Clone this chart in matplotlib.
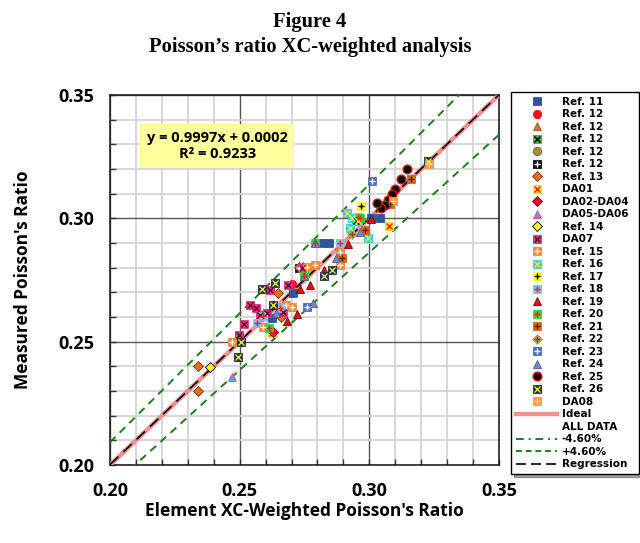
import numpy as np
import matplotlib.pyplot as plt
from matplotlib.lines import Line2D

# ---- data (x = element XC-weighted, y = measured) ----
ref11_x = [0.3006, 0.3041, 0.2820, 0.2843, 0.2707, 0.2624]
ref11_y = [0.3003, 0.3003, 0.2901, 0.2901, 0.2699, 0.2595]
ref12a_x = [0.2700]; ref12a_y = [0.2735]
ref12b_x = [0.2750]; ref12b_y = [0.2780]
ref12c_x = [0.2950]; ref12c_y = [0.2990]
ref12d_x = [0.2967]; ref12d_y = [0.3050]
ref12e_x = [0.2730]; ref12e_y = [0.2800]
ref13_x = [0.2649, 0.2658, 0.2339, 0.2339, 0.2730, 0.2745]
ref13_y = [0.2699, 0.2599, 0.2400, 0.2302, 0.2801, 0.2804]
da01_x = [0.3076, 0.2624]; da01_y = [0.2970, 0.2536]
da02_x = [0.2627]; da02_y = [0.2540]
da05_x = [0.2469]; da05_y = [0.2355]
ref14_x = [0.2386]; ref14_y = [0.2396]
da07_x = [0.2688, 0.2617, 0.2540, 0.2563, 0.2578, 0.2604, 0.2668, 0.2518, 0.2499, 0.2740]
da07_y = [0.2730, 0.2709, 0.2649, 0.2635, 0.2608, 0.2618, 0.2622, 0.2571, 0.2527, 0.2800]
ref15_x = [0.2887, 0.2887, 0.2761, 0.2790, 0.2679, 0.2701, 0.2591, 0.2469]
ref15_y = [0.2865, 0.2811, 0.2801, 0.2811, 0.2649, 0.2639, 0.2558, 0.2500]
ref16_x = [0.2913, 0.2925, 0.2996, 0.2935, 0.2955]
ref16_y = [0.3021, 0.2960, 0.2919, 0.3000, 0.2990]
ref17_x = [0.2967]; ref17_y = [0.3050]
ref18_x = [0.2887, 0.2656, 0.2566, 0.2591, 0.2955]
ref18_y = [0.2901, 0.2635, 0.2577, 0.2604, 0.3005]
ref19_x = [0.3006, 0.2917, 0.2825, 0.2771, 0.2733, 0.2681, 0.2720]
ref19_y = [0.2996, 0.2896, 0.2791, 0.2730, 0.2712, 0.2585, 0.2612]
ref20_x = [0.2964, 0.2748, 0.2791, 0.2614]
ref20_y = [0.3003, 0.2766, 0.2900, 0.2554]
ref21_x = [0.2983, 0.3159, 0.3080, 0.2895]
ref21_y = [0.2953, 0.3161, 0.3058, 0.2840]
ref22_x = [0.2935]; ref22_y = [0.2935]
ref23_x = [0.3009, 0.2761]; ref23_y = [0.3153, 0.2639]
ref24_x = [0.2791, 0.2872, 0.2784, 0.2640, 0.2748, 0.2965]
ref24_y = [0.2901, 0.2838, 0.2658, 0.2615, 0.2766, 0.2945]
ref25_x = [0.3146, 0.3121, 0.3100, 0.3087, 0.3073, 0.3060, 0.3044, 0.3030]
ref25_y = [0.3200, 0.3161, 0.3120, 0.3099, 0.3074, 0.3054, 0.3041, 0.3061]
ref26_x = [0.3227, 0.2855, 0.2825, 0.2585, 0.2636, 0.2627, 0.2505, 0.2495]
ref26_y = [0.3232, 0.2791, 0.2765, 0.2712, 0.2739, 0.2649, 0.2500, 0.2439]
da08_x = [0.3231, 0.3090]; da08_y = [0.3220, 0.3070]

slope, intercept, r2 = 0.9997, 0.0002, 0.9233
band = 0.046
line_x = np.array([0.20, 0.35])

plt.rcParams['font.family'] = ['Open Sans', 'DejaVu Sans']

fig = plt.figure(figsize=(6.4, 5.43), dpi=100)
ax = fig.add_axes([110/640, 1-465/543, 389/640, 370/543])


def pts(x, y, base, fc, ec=None, over=None, oc='k', ms=6, oms=None, ew=0.6):
    h = ax.plot(x, y, ls='none', marker=base, ms=ms, mfc=fc,
                mec=ec if ec else fc, mew=ew, zorder=5)[0]
    if over is None:
        return h
    h2 = ax.plot(x, y, ls='none', marker=over, ms=oms if oms else ms*0.75,
                 mec=oc, mfc=oc, mew=1.0, zorder=6)[0]
    return (h, h2)


handles = [
    pts(ref11_x, ref11_y, 's', '#2e5597'),
    pts(ref12a_x, ref12a_y, 'o', '#ff1010'),
    pts(ref12b_x, ref12b_y, '^', '#c8782e', ec='#9a5a20'),
    pts(ref12c_x, ref12c_y, 's', '#2fb35a', over='x', oc='k'),
    pts(ref12d_x, ref12d_y, 'o', '#8a9a40', ec='#e03020'),
    pts(ref12e_x, ref12e_y, 's', '#111111', over='+', oc='white'),
    pts(ref13_x, ref13_y, 'D', '#e07020', ec='#7a3a10', ms=5),
    pts(da01_x, da01_y, 's', '#ffe600', over='x', oc='#ff2000'),
    pts(da02_x, da02_y, 'D', '#e01020', ec='#700010', ms=5),
    pts(da05_x, da05_y, '^', '#5aa0f0', ec='#ff4070'),
    pts(ref14_x, ref14_y, 'D', '#ffff00', ec='k', ms=5),
    pts(da07_x, da07_y, 's', '#e8307a', over='x', oc='#5a1030'),
    pts(ref15_x, ref15_y, 's', '#f08a3c', over='+', oc='white'),
    pts(ref16_x, ref16_y, 's', '#38c8f0', over='x', oc='#f0f020'),
    pts(ref17_x, ref17_y, 's', '#ffff20', over='+', oc='k'),
    pts(ref18_x, ref18_y, 's', '#94b4e0', over='+', oc='#ff2020'),
    pts(ref19_x, ref19_y, '^', '#e01010', ec='#700000'),
    pts(ref20_x, ref20_y, 's', '#30d040', over='+', oc='#ff2020'),
    pts(ref21_x, ref21_y, 's', '#d0661a', over='+', oc='#5a2a00'),
    pts(ref22_x, ref22_y, 'D', '#b8a060', over='+', oc='#6a5020', ms=5),
    pts(ref23_x, ref23_y, 's', '#4a72b0', over='+', oc='white'),
    pts(ref24_x, ref24_y, '^', '#7886b8', ec='#505c90'),
    pts(ref25_x, ref25_y, 'o', '#000000', ec='#e01010', ms=6.3, ew=1.0),
    pts(ref26_x, ref26_y, 's', '#1c2e5a', over='x', oc='#e8e020'),
    pts(da08_x, da08_y, 's', '#f39a4a', over='+', oc='#ffd0a0'),
]
labels = ['Ref. 11', 'Ref. 12', 'Ref. 12', 'Ref. 12', 'Ref. 12', 'Ref. 12',
          'Ref. 13', 'DA01', 'DA02-DA04', 'DA05-DA06', 'Ref. 14', 'DA07',
          'Ref. 15', 'Ref. 16', 'Ref. 17', 'Ref. 18', 'Ref. 19', 'Ref. 20',
          'Ref. 21', 'Ref. 22', 'Ref. 23', 'Ref. 24', 'Ref. 25', 'Ref. 26', 'DA08']

# reference lines
ideal, = ax.plot(line_x, line_x, color='#f4908e', lw=3.2, zorder=3)
lo, = ax.plot(line_x, line_x*(1-band), color='#1e7a1e', lw=1.4, ls=(0, (4, 3)), zorder=3)
hi, = ax.plot(line_x, line_x*(1+band), color='#1e7a1e', lw=1.4, ls=(0, (4, 3)), zorder=3)
reg, = ax.plot(line_x, slope*line_x + intercept, color='k', lw=1.2, ls=(0, (7, 4)), zorder=4)
blank = Line2D([], [], ls='none')

handles += [ideal, blank,
            Line2D([], [], color='#1e7a1e', lw=1.4, ls=(0, (4, 2.5, 1, 2.5))),
            Line2D([], [], color='#1e7a1e', lw=1.4, ls=(0, (3, 2))),
            Line2D([], [], color='k', lw=1.2, ls=(0, (6, 3)))]
labels += ['Ideal', 'ALL DATA', '-4.60%', '+4.60%', 'Regression']

ax.set_xlim(0.20, 0.35)
ax.set_ylim(0.20, 0.35)
ticks = [0.20, 0.25, 0.30, 0.35]
ax.set_xticks(ticks)
ax.set_yticks(ticks)
ax.set_xticklabels(['%.2f' % t for t in ticks], fontsize=13, fontweight='bold')
ax.set_yticklabels(['%.2f' % t for t in ticks], fontsize=13, fontweight='bold')
ax.set_xticks(np.arange(0.20, 0.351, 0.01), minor=True)
ax.set_yticks(np.arange(0.20, 0.351, 0.01), minor=True)
ax.tick_params(which='both', direction='in', length=4, width=1, color='#333333')
ax.tick_params(axis='x', which='major', pad=12)
ax.tick_params(axis='y', which='major', pad=11)
ax.grid(which='minor', color='#d4d4d4', lw=1.3, zorder=0)
ax.grid(which='major', color='#555555', lw=1.0, zorder=1)
ax.set_axisbelow(True)
for s in ax.spines.values():
    s.set_color('#222222')
    s.set_linewidth(1.2)

ax.set_xlabel("Element XC-Weighted Poisson's Ratio", fontsize=12.5,
              fontweight='bold', labelpad=2)
ax.set_ylabel("Measured Poisson's Ratio", fontsize=12.5,
              fontweight='bold', labelpad=19)

ax.text(0.2414, 0.3293, 'y = %.4fx + %.4f\nR\u00b2 = %.4f' % (slope, intercept, r2),
        ha='center', va='center', fontsize=10.5, fontweight='bold',
        linespacing=1.2, zorder=7,
        bbox=dict(boxstyle='square,pad=0.45', fc='#ffff9e', ec='none'))

fig.text(310/640, 1-22/543, 'Figure 4', ha='center', va='center',
         family='Liberation Serif', fontsize=14.8, fontweight='bold')
fig.text(310/640, 1-47/543, 'Poisson\u2019s ratio XC-weighted analysis', ha='center',
         va='center', family='Liberation Serif', fontsize=14.8, fontweight='bold')

fig.legend(handles, labels, loc='upper left',
           bbox_to_anchor=(511/640, 1-92/543, 128/640, 0), mode='expand',
           prop={'family': 'DejaVu Sans', 'weight': 'bold', 'size': 7.5},
           frameon=True, fancybox=False, shadow=True, edgecolor='k',
           borderpad=0.45, labelspacing=0.24, handlelength=4.0,
           handletextpad=0.4, borderaxespad=0, framealpha=1)

fig.savefig('out.png', dpi=100)
